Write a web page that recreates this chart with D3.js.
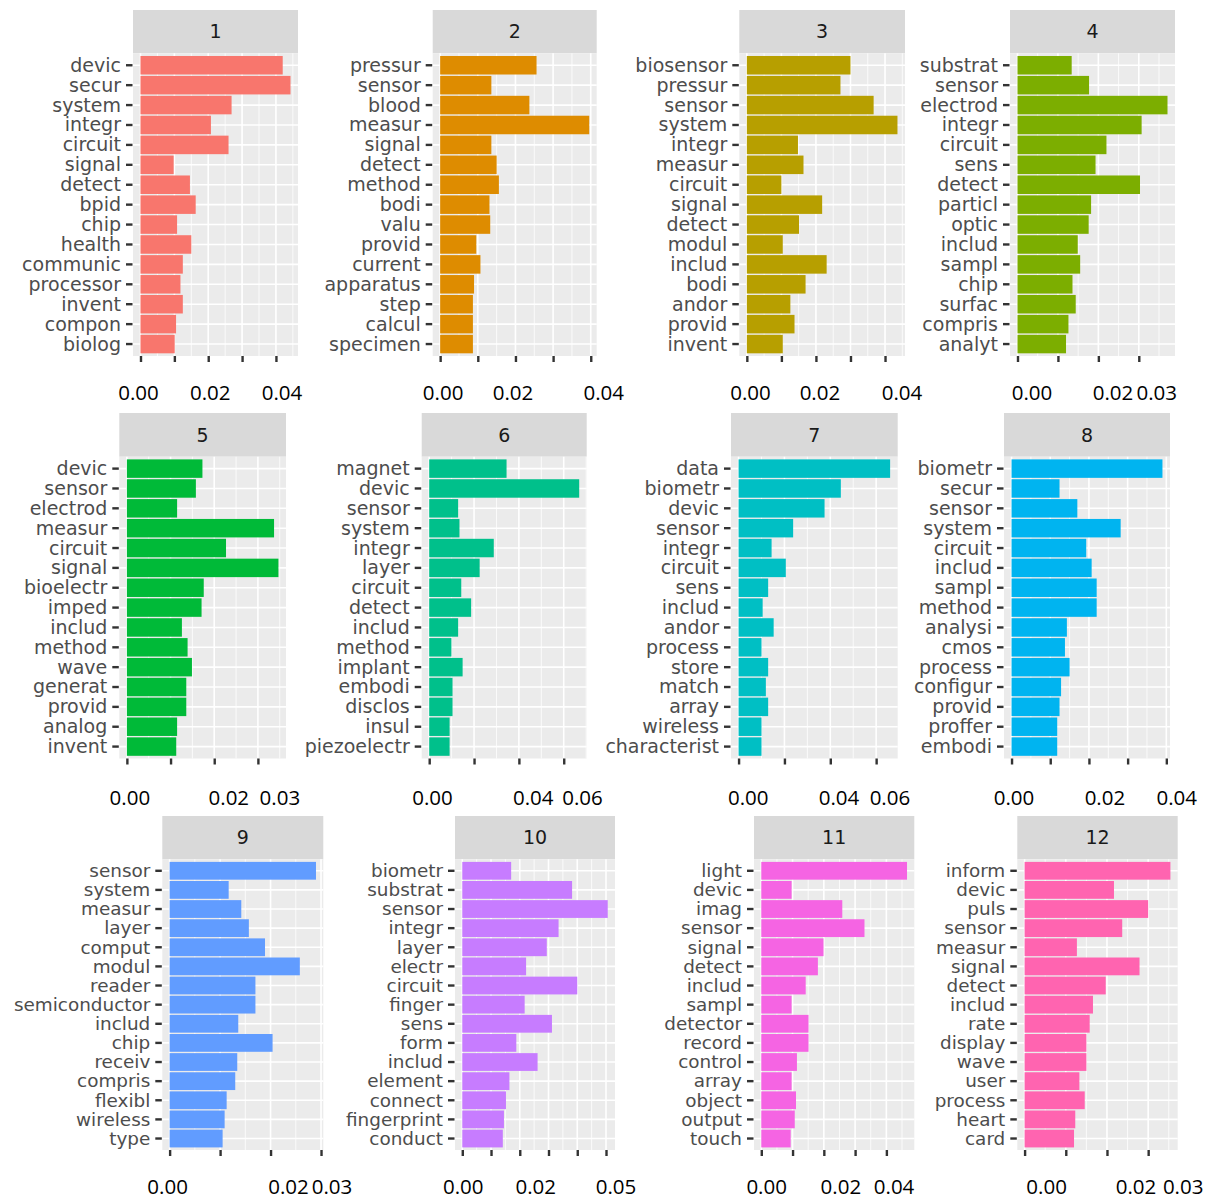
<!DOCTYPE html>
<html>
<head>
<meta charset="utf-8">
<script src="https://cdn.jsdelivr.net/npm/d3@7"></script>
<style>
  html, body { margin: 0; padding: 0; background: #ffffff; }
  svg { display: block; }
</style>
</head>
<body>
<svg id="chart" width="1206" height="1201"></svg>
<script>
// ---- data: top terms per topic (beta) ----
const topics = ["1", "2", "3", "4", "5", "6", "7", "8", "9", "10", "11", "12"];

const terms1 = ["devic", "secur", "system", "integr", "circuit", "signal", "detect", "bpid", "chip", "health", "communic", "processor", "invent", "compon", "biolog"];
const beta1 = [0.0420, 0.0443, 0.0269, 0.0208, 0.0260, 0.0098, 0.0146, 0.0163, 0.0108, 0.0150, 0.0125, 0.0118, 0.0125, 0.0105, 0.0101];

const terms2 = ["pressur", "sensor", "blood", "measur", "signal", "detect", "method", "bodi", "valu", "provid", "current", "apparatus", "step", "calcul", "specimen"];
const beta2 = [0.0256, 0.0136, 0.0237, 0.0396, 0.0136, 0.0150, 0.0156, 0.0131, 0.0133, 0.0096, 0.0107, 0.0090, 0.0087, 0.0087, 0.0087];

const terms3 = ["biosensor", "pressur", "sensor", "system", "integr", "measur", "circuit", "signal", "detect", "modul", "includ", "bodi", "andor", "provid", "invent"];
const beta3 = [0.0300, 0.0271, 0.0367, 0.0436, 0.0148, 0.0164, 0.0100, 0.0218, 0.0151, 0.0104, 0.0231, 0.0170, 0.0126, 0.0138, 0.0104];

const terms4 = ["substrat", "sensor", "electrod", "integr", "circuit", "sens", "detect", "particl", "optic", "includ", "sampl", "chip", "surfac", "compris", "analyt"];
const beta4 = [0.0134, 0.0177, 0.0371, 0.0307, 0.0220, 0.0193, 0.0303, 0.0182, 0.0176, 0.0149, 0.0155, 0.0136, 0.0144, 0.0126, 0.0120];

const terms5 = ["devic", "sensor", "electrod", "measur", "circuit", "signal", "bioelectr", "imped", "includ", "method", "wave", "generat", "provid", "analog", "invent"];
const beta5 = [0.0173, 0.0158, 0.0115, 0.0337, 0.0227, 0.0347, 0.0176, 0.0171, 0.0126, 0.0139, 0.0149, 0.0136, 0.0136, 0.0115, 0.0113];

const terms6 = ["magnet", "devic", "sensor", "system", "integr", "layer", "circuit", "detect", "includ", "method", "implant", "embodi", "disclos", "insul", "piezoelectr"];
const beta6 = [0.0345, 0.0669, 0.0129, 0.0135, 0.0288, 0.0225, 0.0143, 0.0187, 0.0129, 0.0099, 0.0149, 0.0104, 0.0104, 0.0091, 0.0091];

const terms7 = ["data", "biometr", "devic", "sensor", "integr", "circuit", "sens", "includ", "andor", "process", "store", "match", "array", "wireless", "characterist"];
const beta7 = [0.0661, 0.0446, 0.0375, 0.0238, 0.0144, 0.0206, 0.0129, 0.0105, 0.0153, 0.0100, 0.0129, 0.0119, 0.0129, 0.0100, 0.0100];

const terms8 = ["biometr", "secur", "sensor", "system", "circuit", "includ", "sampl", "method", "analysi", "cmos", "process", "configur", "provid", "proffer", "embodi"];
const beta8 = [0.0390, 0.0124, 0.0170, 0.0282, 0.0193, 0.0207, 0.0220, 0.0220, 0.0143, 0.0138, 0.0150, 0.0128, 0.0124, 0.0118, 0.0118];

const terms9 = ["sensor", "system", "measur", "layer", "comput", "modul", "reader", "semiconductor", "includ", "chip", "receiv", "compris", "flexibl", "wireless", "type"];
const beta9 = [0.0290, 0.0117, 0.0142, 0.0157, 0.0189, 0.0258, 0.0170, 0.0170, 0.0136, 0.0204, 0.0134, 0.0130, 0.0113, 0.0109, 0.0105];

const terms10 = ["biometr", "substrat", "sensor", "integr", "layer", "electr", "circuit", "finger", "sens", "form", "includ", "element", "connect", "fingerprint", "conduct"];
const beta10 = [0.0170, 0.0382, 0.0506, 0.0335, 0.0294, 0.0222, 0.0400, 0.0217, 0.0312, 0.0188, 0.0262, 0.0164, 0.0152, 0.0145, 0.0141];

const terms11 = ["light", "devic", "imag", "sensor", "signal", "detect", "includ", "sampl", "detector", "record", "control", "array", "object", "output", "touch"];
const beta11 = [0.0466, 0.0097, 0.0259, 0.0330, 0.0199, 0.0181, 0.0142, 0.0097, 0.0151, 0.0151, 0.0114, 0.0097, 0.0111, 0.0107, 0.0094];

const terms12 = ["inform", "devic", "puls", "sensor", "measur", "signal", "detect", "includ", "rate", "display", "wave", "user", "process", "heart", "card"];
const beta12 = [0.0354, 0.0217, 0.0300, 0.0237, 0.0127, 0.0279, 0.0197, 0.0166, 0.0158, 0.0150, 0.0150, 0.0133, 0.0146, 0.0123, 0.0120];

// axis breaks: spacing of major ticks and the values that carry a label
const majorSteps = [0.01, 0.01, 0.01, 0.01, 0.01, 0.02, 0.02, 0.01, 0.01, 0.01, 0.01, 0.01];
const labelTicks = [
  [0, 0.02, 0.04], [0, 0.02, 0.04], [0, 0.02, 0.04], [0, 0.02, 0.03],
  [0, 0.02, 0.03], [0, 0.04, 0.06], [0, 0.04, 0.06], [0, 0.02, 0.04],
  [0, 0.02, 0.03], [0, 0.02, 0.05], [0, 0.02, 0.04], [0, 0.02, 0.03]
];

const termSets = [terms1, terms2, terms3, terms4, terms5, terms6, terms7, terms8, terms9, terms10, terms11, terms12];
const betaSets = [beta1, beta2, beta3, beta4, beta5, beta6, beta7, beta8, beta9, beta10, beta11, beta12];

// ---- layout ----
const rows = [
  { stripTop: 10,  panelTop: 53.3,  panelBottom: 356,   labelY: 400,  termSize: 19 },
  { stripTop: 413, panelTop: 456.7, panelBottom: 758.5, labelY: 805,  termSize: 19 },
  { stripTop: 816, panelTop: 859.3, panelBottom: 1150,  labelY: 1194, termSize: 18.4 }
];
const panels = [
  { row: 0, left: 133,    width: 165,   labelDx: [-2, 2, 6] },
  { row: 0, left: 432.7,  width: 164,   labelDx: [3, -2.5, 13] },
  { row: 0, left: 739.3,  width: 165.7, labelDx: [3.7, 4, 17] },
  { row: 0, left: 1010,   width: 165,   labelDx: [14.5, 14.6, 18] },
  { row: 1, left: 119.3,  width: 166.7, labelDx: [3, 14.6, 22] },
  { row: 1, left: 421.7,  width: 165,   labelDx: [3.3, 14.4, 18.8] },
  { row: 1, left: 731,    width: 166.7, labelDx: [9.7, 8.7, 13.8] },
  { row: 1, left: 1004,   width: 166,   labelDx: [2.5, 16, 10.4] },
  { row: 2, left: 162.3,  width: 161,   labelDx: [-2, 18, 11] },
  { row: 2, left: 455,    width: 160,   labelDx: [1, 16, 10] },
  { row: 2, left: 754,    width: 160.3, labelDx: [5.4, 17, 7.7] },
  { row: 2, left: 1017.3, width: 160.4, labelDx: [22, 29, 35] }
];

const fillColors = ["#F8766D", "#DE8C00", "#B79F00", "#7CAE00", "#00BA38", "#00C08B",
                    "#00BFC4", "#00B4F0", "#619CFF", "#C77CFF", "#F564E3", "#FF64B0"];

const svg = d3.select("#chart");
const fmt = d3.format(".2f");

topics.forEach((topic, i) => {
  const terms = termSets[i];
  const beta = betaSets[i];
  const P = panels[i];
  const R = rows[P.row];
  const left = P.left, right = P.left + P.width;
  const top = R.panelTop, bottom = R.panelBottom;

  // free x scale with 5% expansion on both sides
  const maxV = d3.max(beta);
  const x = d3.scaleLinear()
    .domain([-0.05 * maxV, 1.05 * maxV])
    .range([left, right]);

  const y = d3.scaleBand()
    .domain(terms)
    .range([top, bottom])
    .paddingInner(0.07)
    .paddingOuter(0.135);

  const step = majorSteps[i];
  const majors = d3.range(0, x.domain()[1] + 1e-9, step);
  const minors = d3.range(step / 2, x.domain()[1], step);

  const g = svg.append("g").attr("class", "panel-" + topic);

  // strip
  g.append("rect")
    .attr("x", left).attr("y", R.stripTop)
    .attr("width", P.width).attr("height", top - R.stripTop)
    .attr("fill", "#D9D9D9");
  g.append("text")
    .attr("x", (left + right) / 2)
    .attr("y", (R.stripTop + top) / 2)
    .attr("dy", "0.36em")
    .attr("text-anchor", "middle")
    .attr("font-family", "DejaVu Sans, sans-serif")
    .attr("font-size", 19)
    .attr("fill", "#1A1A1A")
    .text(topic);

  // panel background
  g.append("rect")
    .attr("x", left).attr("y", top)
    .attr("width", P.width).attr("height", bottom - top)
    .attr("fill", "#EBEBEB");

  // grid lines
  const grid = g.append("g").attr("stroke", "#ffffff");
  grid.selectAll("line.minor").data(minors).join("line")
    .attr("class", "minor")
    .attr("x1", d => x(d)).attr("x2", d => x(d))
    .attr("y1", top).attr("y2", bottom)
    .attr("stroke-width", 0.8);
  grid.selectAll("line.major").data(majors).join("line")
    .attr("class", "major")
    .attr("x1", d => x(d)).attr("x2", d => x(d))
    .attr("y1", top).attr("y2", bottom)
    .attr("stroke-width", 1.6);
  grid.selectAll("line.hmajor").data(terms).join("line")
    .attr("class", "hmajor")
    .attr("x1", left).attr("x2", right)
    .attr("y1", d => y(d) + y.bandwidth() / 2)
    .attr("y2", d => y(d) + y.bandwidth() / 2)
    .attr("stroke-width", 1.6);

  // bars
  g.append("g").selectAll("rect").data(terms).join("rect")
    .attr("x", x(0))
    .attr("y", d => y(d))
    .attr("width", (d, j) => x(beta[j]) - x(0))
    .attr("height", y.bandwidth())
    .attr("fill", fillColors[i]);

  // y axis
  const yAxis = g.append("g")
    .attr("transform", `translate(${left - 0.5},0)`)
    .call(d3.axisLeft(y).tickSize(6.5).tickPadding(5));
  yAxis.select(".domain").remove();
  yAxis.selectAll(".tick line").attr("stroke", "#333333").attr("stroke-width", 2.4);
  yAxis.selectAll(".tick text")
    .attr("font-family", "DejaVu Sans, sans-serif")
    .attr("font-size", R.termSize)
    .attr("fill", "#4D4D4D")
    .attr("dy", "0.34em");

  // x axis ticks
  const xAxis = g.append("g")
    .attr("transform", `translate(0,${bottom})`)
    .call(d3.axisBottom(x).tickValues(majors).tickSize(6).tickFormat(""));
  xAxis.select(".domain").remove();
  xAxis.selectAll(".tick line").attr("stroke", "#333333").attr("stroke-width", 2.4);

  // x tick labels
  g.append("g").selectAll("text").data(labelTicks[i]).join("text")
    .attr("x", (d, j) => x(d) + P.labelDx[j])
    .attr("y", R.labelY)
    .attr("text-anchor", "middle")
    .attr("font-family", "Open Sans, Noto Sans, sans-serif")
    .attr("font-size", 20.5)
    .attr("fill", "#000000")
    .text(d => fmt(d));
});
</script>
</body>
</html>
